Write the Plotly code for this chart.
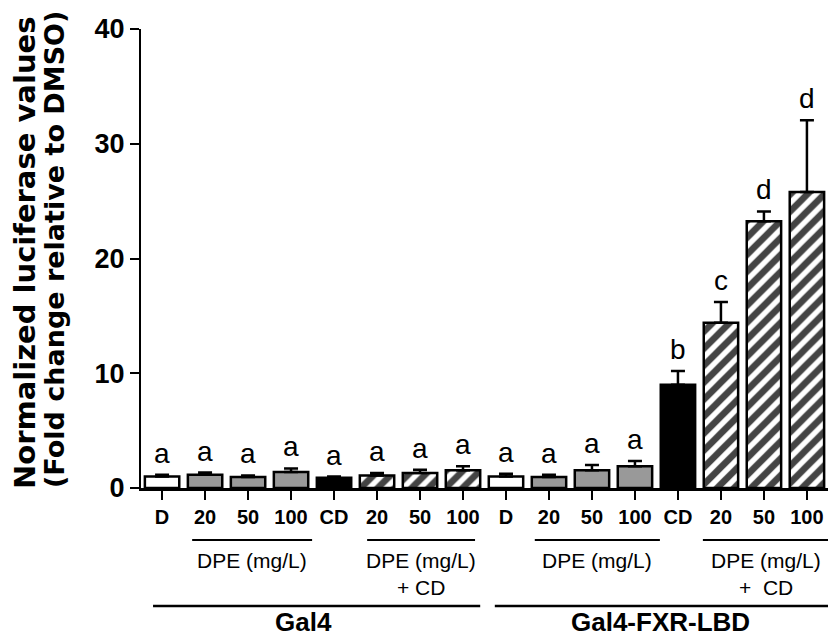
import plotly.graph_objects as go

# ---- data ----
tick_labels = ["D", "20", "50", "100", "CD", "20", "50", "100",
               "D", "20", "50", "100", "CD", "20", "50", "100"]
values = [1.0, 1.15, 0.95, 1.4, 0.9, 1.1, 1.3, 1.55,
          1.0, 0.95, 1.55, 1.9, 9.0, 14.4, 23.25, 25.8]
errors = [0.15, 0.2, 0.15, 0.3, 0.1, 0.2, 0.3, 0.35,
          0.25, 0.2, 0.45, 0.45, 1.2, 1.8, 0.85, 6.25]
letters = ["a", "a", "a", "a", "a", "a", "a", "a",
           "a", "a", "a", "a", "b", "c", "d", "d"]
treatment = ["DMSO", "DPE", "DPE", "DPE", "CD", "DPE+CD", "DPE+CD", "DPE+CD",
             "DMSO", "DPE", "DPE", "DPE", "CD", "DPE+CD", "DPE+CD", "DPE+CD"]
sub_groups = ["DPE (mg/L)", "DPE (mg/L)|+ CD", "DPE (mg/L)", "DPE (mg/L)|+\u00a0\u00a0CD"]
sub_spans = [(0.70, 3.49), (4.77, 7.28), (8.67, 11.58), (12.58, 15.51)]
main_groups = ["Gal4", "Gal4-FXR-LBD"]
main_spans = [(-0.21, 7.40), (7.74, 15.67)]
main_label_x = [3.3, 11.6]

fill_map = {"DMSO": "white", "DPE": "#999999", "CD": "black", "DPE+CD": "white"}
pattern_map = {"DMSO": "", "DPE": "", "CD": "", "DPE+CD": "/"}

x = list(range(len(tick_labels)))

# page has an 8px body margin; figure sized so the plot area lands where the reference has it
PAGE_OFF = 8
FIG_W, FIG_H = 836 - PAGE_OFF, 636 - PAGE_OFF
PLOT_L, PLOT_R, PLOT_T, PLOT_B = 141, 831, 29, 488  # page pixels
PLOT_H = PLOT_B - PLOT_T
PLOT_W = PLOT_R - PLOT_L


def py(px):
    return (PLOT_B - px) / PLOT_H


def pxp(px):
    return (px - PLOT_L) / PLOT_W


fig = go.Figure()
fig.add_trace(go.Bar(
    x=x, y=values, width=0.8,
    marker=dict(
        color=[fill_map[t] for t in treatment],
        line=dict(color="black", width=2.5),
        pattern=dict(shape=[pattern_map[t] for t in treatment],
                     fgcolor="black", fgopacity=1, size=12, solidity=0.55,
                     fillmode="overlay"),
    ),
    error_y=dict(type="data", array=errors, arrayminus=[0] * len(errors),
                 symmetric=False, color="black", thickness=2.5, width=7),
    showlegend=False,
))

# significance letters
for xi, v, e, l in zip(x, values, errors, letters):
    fig.add_annotation(x=xi, y=v + e, text=l, showarrow=False, yanchor="bottom",
                       yshift=4, font=dict(family="Liberation Sans", size=28, color="black"))

# sub-group lines and labels
for name, (a, b) in zip(sub_groups, sub_spans):
    fig.add_shape(type="line", xref="x", yref="paper", x0=a, x1=b, y0=py(540), y1=py(540),
                  line=dict(color="black", width=2))
    for i, ln in enumerate(name.split("|")):
        fig.add_annotation(x=(a + b) / 2, xref="x", yref="paper", y=py(560 + 27 * i),
                           text=ln, showarrow=False, yanchor="middle",
                           font=dict(family="Liberation Sans", size=21, color="black"))

for name, (a, b), lx in zip(main_groups, main_spans, main_label_x):
    fig.add_shape(type="line", xref="x", yref="paper", x0=a, x1=b, y0=py(606), y1=py(606),
                  line=dict(color="black", width=2.5))
    fig.add_annotation(x=lx, xref="x", yref="paper", y=py(622),
                       text="<b>%s</b>" % name, showarrow=False, yanchor="middle",
                       font=dict(family="Liberation Sans", size=26, color="black"))

# y-axis title (two rotated lines)
title_lines = ["Normalized luciferase values", "(Fold change relative to DMSO)"]
title_x_px = [25, 54]
title_y_px = [253, 250]
title_sizes = [29, 27]
for t, px, pyv, fs in zip(title_lines, title_x_px, title_y_px, title_sizes):
    fig.add_annotation(xref="paper", yref="paper", x=pxp(px), y=py(pyv),
                       text="<b>%s</b>" % t, textangle=-90, showarrow=False,
                       xanchor="center", yanchor="middle",
                       font=dict(family="DejaVu Sans", size=fs, color="black"))

fig.update_layout(
    width=FIG_W, height=FIG_H,
    margin=dict(l=PLOT_L - PAGE_OFF, r=FIG_W - (PLOT_R - PAGE_OFF),
                t=PLOT_T - PAGE_OFF, b=FIG_H - (PLOT_B - PAGE_OFF)),
    paper_bgcolor="white", plot_bgcolor="white",
)
fig.update_xaxes(
    range=[-0.49, 15.56], tickvals=x, ticktext=["<b>%s</b>" % t for t in tick_labels],
    showline=True, linecolor="black", linewidth=2.5, ticks="outside", ticklen=9,
    tickwidth=2, tickcolor="black", showgrid=False, zeroline=False,
    tickfont=dict(family="Liberation Sans", size=20, color="black"),
)
fig.update_yaxes(
    range=[0, 40], tickvals=[0, 10, 20, 30, 40],
    ticktext=["<b>%d</b>" % v for v in [0, 10, 20, 30, 40]],
    showline=True, linecolor="black", linewidth=2, ticks="outside", ticklen=9,
    tickwidth=2, tickcolor="black", showgrid=False, zeroline=False,
    tickfont=dict(family="Liberation Sans", size=27, color="black"),
)

fig.write_html("out.html")
